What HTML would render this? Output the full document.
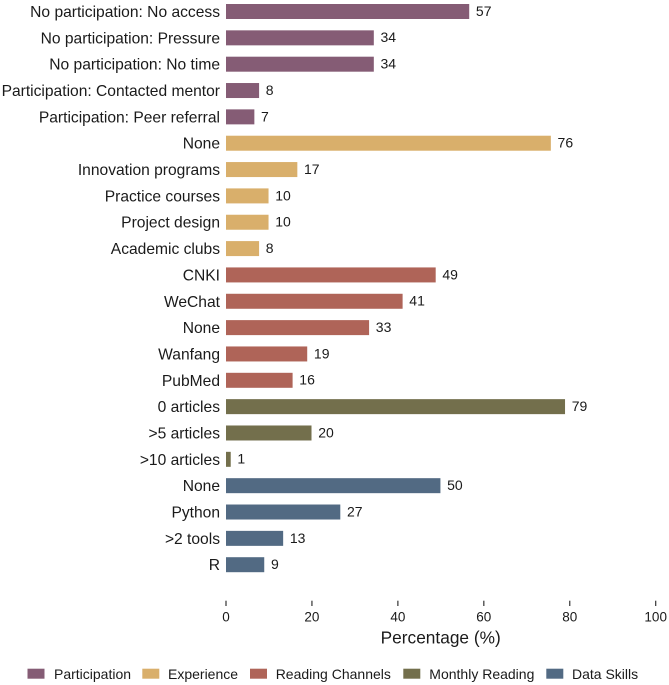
<!DOCTYPE html>
<html lang="en">
<head>
<meta charset="utf-8">
<title>Percentage bar chart</title>
<style>
html,body{margin:0;padding:0;background:#fff;width:669px;height:685px;overflow:hidden}
svg{display:block}
text{font-family:"Liberation Sans",Arial,sans-serif;fill:#1a1a1a}
</style>
</head>
<body>
<svg id="chart" width="669" height="685" viewBox="0 0 669 685" xmlns="http://www.w3.org/2000/svg">
  <rect x="0" y="0" width="669" height="685" fill="#fff"/>
  <g id="bars"></g>
  <g id="x-axis"></g>
  <text x="440.7" y="643.5" text-anchor="middle" font-size="17.3">Percentage (%)</text>
  <g>
    <g>
      <rect x="27.5" y="668.7" width="17" height="10" fill="#855C75"/>
      <text x="54" y="679" font-size="14">Participation</text>
    </g>
    <g>
      <rect x="142.3" y="668.7" width="17" height="10" fill="#D9AF6B"/>
      <text x="168" y="679" font-size="14">Experience</text>
    </g>
    <g>
      <rect x="250" y="668.7" width="17" height="10" fill="#AF6458"/>
      <text x="275.7" y="679" font-size="14">Reading Channels</text>
    </g>
    <g>
      <rect x="403.3" y="668.7" width="17" height="10" fill="#736F4C"/>
      <text x="429.3" y="679" font-size="14">Monthly Reading</text>
    </g>
    <g>
      <rect x="546.3" y="668.7" width="17" height="10" fill="#526A83"/>
      <text x="572" y="679" font-size="14">Data Skills</text>
    </g>
  </g>
</svg>
<script>
const categories = ["No participation: No access","No participation: Pressure","No participation: No time","Participation: Contacted mentor","Participation: Peer referral","None","Innovation programs","Practice courses","Project design","Academic clubs","CNKI","WeChat","None","Wanfang","PubMed","0 articles",">5 articles",">10 articles","None","Python",">2 tools","R"];
const groups = ["Participation","Participation","Participation","Participation","Participation","Experience","Experience","Experience","Experience","Experience","Reading Channels","Reading Channels","Reading Channels","Reading Channels","Reading Channels","Monthly Reading","Monthly Reading","Monthly Reading","Data Skills","Data Skills","Data Skills","Data Skills"];
const values = [56.6,34.4,34.4,7.7,6.6,75.6,16.6,9.9,9.9,7.7,48.8,41.1,33.3,18.9,15.5,78.9,19.9,1.1,49.9,26.6,13.3,8.9];
const valueLabels = ["57","34","34","8","7","76","17","10","10","8","49","41","33","19","16","79","20","1","50","27","13","9"];
const xTicks = [0,20,40,60,80,100];
const groupColors = {"Participation":"#855C75","Experience":"#D9AF6B","Reading Channels":"#AF6458","Monthly Reading":"#736F4C","Data Skills":"#526A83"};

const NS = "http://www.w3.org/2000/svg";
const X0 = 226, X1 = 655.7, XMAX = 100;
const Y0 = 11.5, Y1 = 564.7, BAR_H = 15;
const xScale = v => X0 + (v / XMAX) * (X1 - X0);
const yScale = i => Y0 + i * (Y1 - Y0) / (categories.length - 1);
const slug = s => s.toLowerCase().replace(/[^a-z0-9]+/g, "-").replace(/^-|-$/g, "");
function make(tag, attrs, parent, txt) {
  const el = document.createElementNS(NS, tag);
  for (const k in attrs) el.setAttribute(k, attrs[k]);
  if (txt !== undefined) el.textContent = txt;
  parent.appendChild(el);
  return el;
}

const barsG = document.getElementById("bars");
categories.forEach((c, i) => {
  const y = yScale(i);
  const base = slug(groups[i]) + "-" + slug(c);
  const label = make("text", {x: X0 - 6, y: y + 5.5, "text-anchor": "end", "font-size": 15.6}, barsG, c);
  
  
  const bar = make("rect", {x: X0, y: y - BAR_H / 2, width: xScale(values[i]) - X0, height: BAR_H, fill: groupColors[groups[i]]}, barsG);
  
  
  const val = make("text", {x: xScale(values[i]) + 6.7, y: y + 4.4, "font-size": 14}, barsG, valueLabels[i]);
  
  
});

const axisG = document.getElementById("x-axis");
xTicks.forEach(t => {
  const x = xScale(t);
  const tick = make("line", {x1: x, x2: x, y1: 600.7, y2: 606, stroke: "#333", "stroke-width": 1.2}, axisG);
  
  
  const lab = make("text", {x: x, y: 621.7, "text-anchor": "middle", "font-size": 13.5}, axisG, String(t));
  
  
});
</script>
</body>
</html>
